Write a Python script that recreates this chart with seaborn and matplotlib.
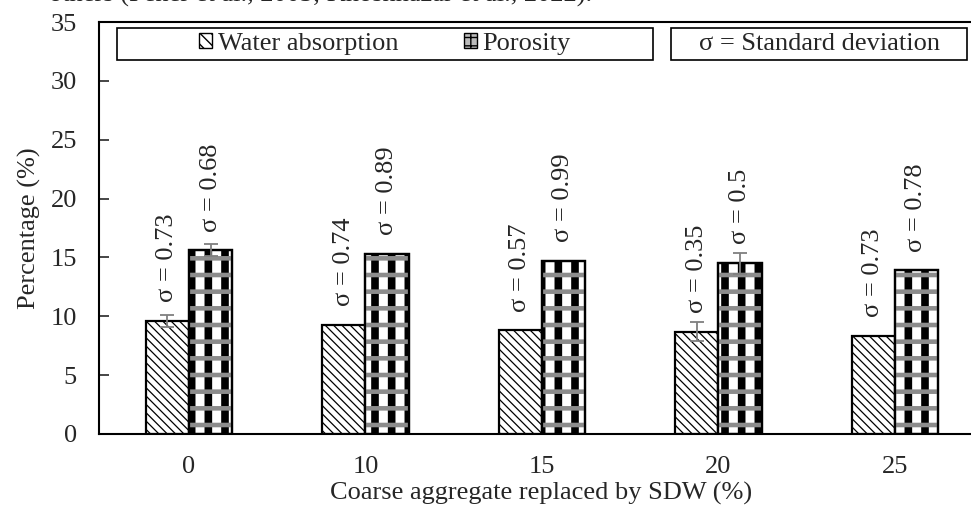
import numpy as np
import pandas as pd
import matplotlib.pyplot as plt
import matplotlib.patches as mpatches
import seaborn as sns

# values
replacement = ["0", "10", "15", "20", "25"]
water_absorption = [9.6, 9.3, 8.8, 8.7, 8.3]
porosity = [15.6, 15.3, 14.7, 14.5, 13.9]
water_sigma = ["0.73", "0.74", "0.57", "0.35", "0.73"]
porosity_sigma = ["0.68", "0.89", "0.99", "0.5", "0.78"]
# error bars only drawn on some groups in the original
water_err = [0.5, 0.0, 0.0, 0.8, 0.0]
porosity_err = [0.5, 0.0, 0.0, 0.9, 0.0]

df = pd.DataFrame({
    "SDW": replacement * 2,
    "value": water_absorption + porosity,
    "kind": ["Water absorption"] * 5 + ["Porosity"] * 5,
})

FS = 19

sns.set_theme(style="white")
plt.rcParams["font.family"] = ["Liberation Serif", "DejaVu Serif"]


def hatch_lw(p, lw):
    try:
        p.set_hatch_linewidth(lw)
    except AttributeError:
        plt.rcParams["hatch.linewidth"] = lw


fig = plt.figure(figsize=(9.71, 5.09), dpi=100)
ax = fig.add_axes([99 / 971, 1 - 434 / 509, 884 / 971, 412 / 509])

sns.barplot(data=df, x="SDW", y="value", hue="kind", ax=ax,
            palette=["white", "white"], width=0.49, edgecolor="black",
            linewidth=1.6, errorbar=None, legend=False)

water_bars, poro_bars = ax.containers[0], ax.containers[1]
for bar in water_bars:
    bar.set_hatch("\\\\\\\\")
    hatch_lw(bar, 0.9)
for bar in poro_bars:
    bar.set_hatch("|")
    hatch_lw(bar, 5.5)
    bar.set_zorder(2)
    # gray dotted bands of the porosity fill
    band = mpatches.Rectangle(bar.get_xy(), bar.get_width(), bar.get_height(),
                              facecolor="none", edgecolor="#8c8c8c",
                              linewidth=0, hatch="-", zorder=2.5)
    hatch_lw(band, 3.3)
    ax.add_patch(band)
    outline = mpatches.Rectangle(bar.get_xy(), bar.get_width(), bar.get_height(),
                                 facecolor="none", edgecolor="black",
                                 linewidth=1.6, zorder=3)
    ax.add_patch(outline)

# error bars and sigma labels
for cont, vals, errs, sig in zip([water_bars, poro_bars],
                                 [water_absorption, porosity],
                                 [water_err, porosity_err],
                                 [water_sigma, porosity_sigma]):
    for bar, v, e, s in zip(cont, vals, errs, sig):
        xc = bar.get_x() + bar.get_width() / 2
        if e > 0:
            ax.errorbar(xc, v, yerr=e, color="#7f7f7f", capsize=5,
                        elinewidth=1.3, capthick=1.3, zorder=5)
        ax.text(xc, v + 1.6, f"σ = {s}", rotation=90, ha="center",
                va="bottom", fontsize=FS)

ax.set_ylim(0, 35)
ax.set_yticks(range(0, 36, 5))
ax.set_xlim(-0.51, 4.5)
ax.tick_params(axis="y", direction="in", length=7, width=1.2, labelsize=FS,
               left=True, pad=16)
ax.tick_params(axis="x", length=0, labelsize=FS, pad=16)
ax.set_xlabel("Coarse aggregate replaced by SDW (%)", fontsize=FS, labelpad=3)
ax.set_ylabel("Percentage (%)", fontsize=FS, labelpad=7)
for sp in ax.spines.values():
    sp.set_color("black")
    sp.set_linewidth(1.5)

# legend boxes
box_y, box_h = 0.908, 0.077
ax.add_patch(mpatches.Rectangle((0.0204, box_y), 0.606, box_h,
                                transform=ax.transAxes, facecolor="white",
                                edgecolor="black", linewidth=1.2, zorder=6))
ax.add_patch(mpatches.Rectangle((0.647, box_y), 0.335, box_h,
                                transform=ax.transAxes, facecolor="white",
                                edgecolor="black", linewidth=1.2, zorder=6))

handles = [mpatches.Patch(facecolor="white", edgecolor="black",
                          hatch="\\\\\\", label="Water absorption"),
           mpatches.Patch(facecolor="#bbbbbb", edgecolor="black",
                          hatch="++", label="Porosity")]
leg = ax.legend(handles=handles, ncol=2, loc="center",
                bbox_to_anchor=(0.0204 + 0.606 / 2, box_y + box_h / 2),
                fontsize=FS, frameon=False, handlelength=0.5,
                handleheight=0.5, handletextpad=0.2, columnspacing=2.5,
                borderpad=0, borderaxespad=0)
leg.set_zorder(7)

ax.text(0.647 + 0.335 / 2, box_y + box_h / 2, "σ = Standard deviation",
        transform=ax.transAxes, ha="center", va="center", fontsize=FS,
        zorder=7)

# bottom of the preceding text line, cut by the crop
fig.text(0.05, 1 - 2 / 509, "others (Fener et al., 2005; Khoshnazar et al., 2022).",
         ha="left", va="baseline", fontsize=FS)

fig.savefig("out.png", dpi=100)
